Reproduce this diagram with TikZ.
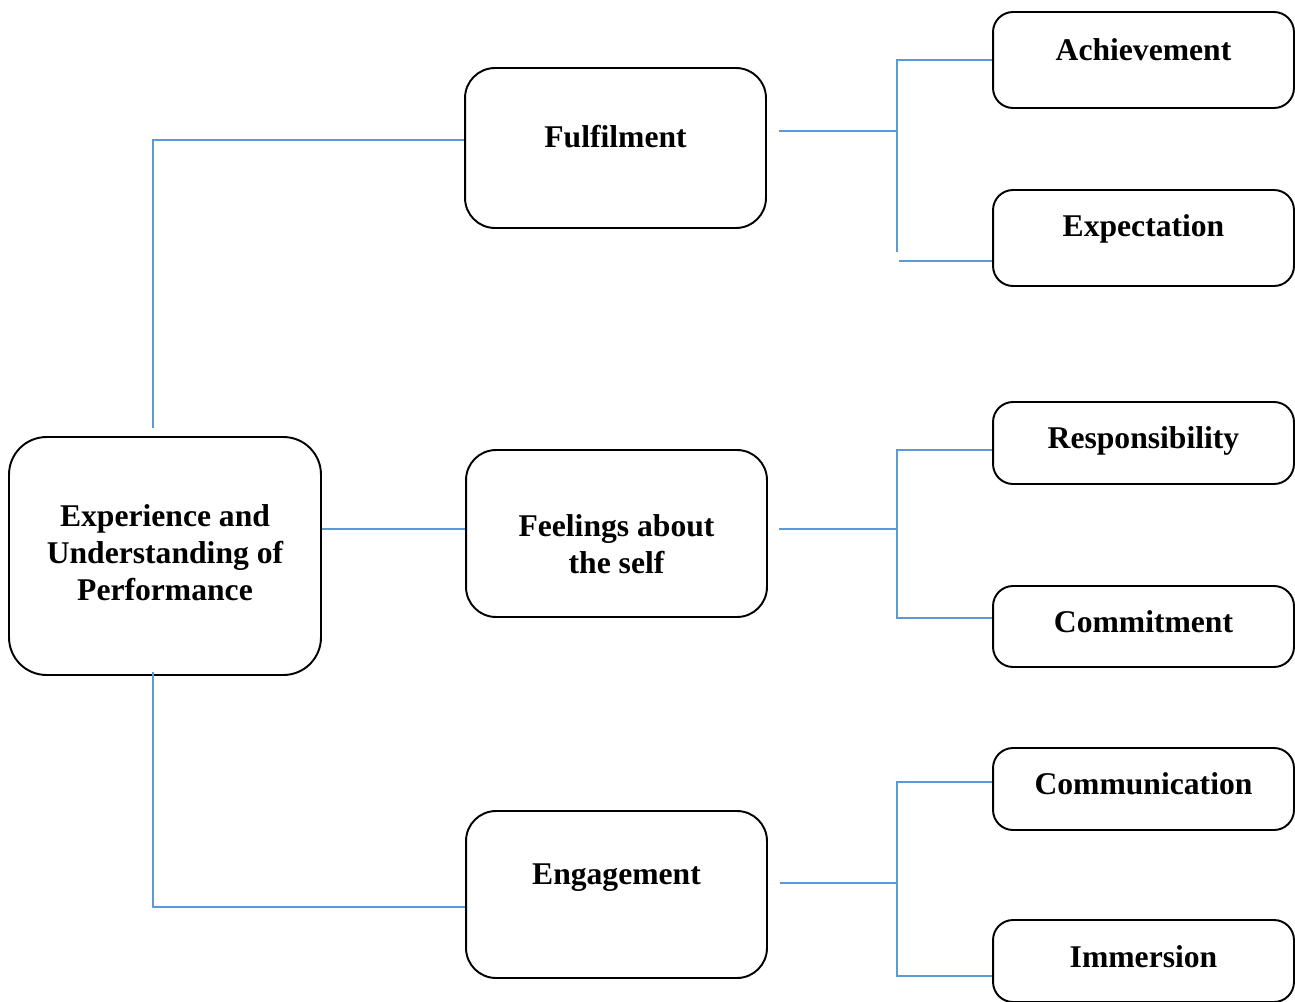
\documentclass[tikz,border=0pt]{standalone}
\usepackage{fontspec}
\setmainfont{Liberation Serif}
\definecolor{linkblue}{HTML}{5B9BD5}

\begin{document}
\begin{tikzpicture}[x=0.02cm, y=-0.02cm,
  main node/.style={draw, line width=1.1pt, inner sep=0pt, minimum width=6.02cm, rounded corners=0.6cm},
  leaf node/.style={main node, rounded corners=0.4cm},
  link/.style={draw=linkblue, line width=0.6pt},
  box text/.style={font=\fontsize{18}{21}\selectfont\bfseries, align=center},
  every label/.style={box text}]
\useasboundingbox (0,0) rectangle (1295,1001);

\node[main node, minimum width=6.24cm, minimum height=4.76cm, rounded corners=0.75cm,
      label={[yshift=0.06cm]center:Experience and\\Understanding of\\Performance}] (perf) at (165,556) {};

\node[main node, minimum height=3.2cm,  label={[yshift=0.22cm]center:Fulfilment}]            (fulfil) at (615.5,148)   {};
\node[main node, minimum height=3.34cm, label={[yshift=-0.22cm]center:Feelings about\\the self}] (self)   at (616.5,533.5) {};
\node[main node, minimum height=3.34cm, label={[yshift=0.34cm]center:Engagement}]            (engage) at (616.5,894.5) {};

\node[leaf node, minimum height=1.92cm, label={[yshift=0.2cm]center:Achievement}]    (achieve) at (1143.5,60)    {};
\node[leaf node, minimum height=1.92cm, label={[yshift=0.18cm]center:Expectation}]   (expect)  at (1143.5,238)   {};
\node[leaf node, minimum height=1.64cm, label={[yshift=0.05cm]center:Responsibility}] (resp)    at (1143.5,443)   {};
\node[leaf node, minimum height=1.62cm, label={[yshift=0.09cm]center:Commitment}]    (commit)  at (1143.5,626.5) {};
\node[leaf node, minimum height=1.64cm, label={[yshift=0.1cm]center:Communication}]  (comm)    at (1143.5,789)   {};
\node[leaf node, minimum height=1.64cm, label={[yshift=0.08cm]center:Immersion}]     (immer)   at (1143.5,961)   {};

% junctions
\coordinate (tj) at (153,140);
\coordinate (bj) at (153,907);
\coordinate (fj) at (897,131);
\coordinate (sj) at (897,529);
\coordinate (ej) at (897,883);
\coordinate (f1) at (897,60);
\coordinate (f2) at (897,252);
\coordinate (f3) at (899,261);
\coordinate (s1) at (897,450);
\coordinate (s2) at (897,618);
\coordinate (e1) at (897,782);
\coordinate (e2) at (897,976);

% left side
\draw[link] (perf.north -| tj) ++(0,-8) -- (tj) -- (fulfil.west |- tj);
\draw[link] (perf.east |- sj) -- (self.west |- sj);
\draw[link] (perf.south -| bj) ++(0,-4) -- (bj) -- (engage.west |- bj);

% right side
\draw[link] (fulfil.east |- fj) ++(12,0) -- (fj);
\draw[link] (achieve.west |- f1) -- (f1) -- (f2);
\draw[link] (f3) -- (expect.west |- f3);
\draw[link] (self.east |- sj) ++(11,0) -- (sj);
\draw[link] (resp.west |- s1) -- (s1) -- (s2) -- (commit.west |- s2);
\draw[link] (engage.east |- ej) ++(12,0) -- (ej);
\draw[link] (comm.west |- e1) -- (e1) -- (e2) -- (immer.west |- e2);
\end{tikzpicture}
\end{document}
